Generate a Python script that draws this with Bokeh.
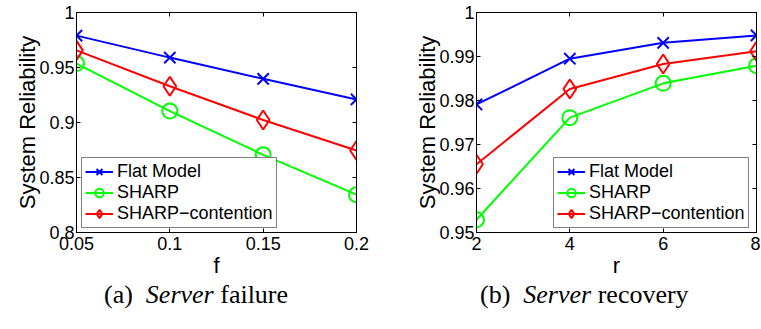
from bokeh.plotting import figure
from bokeh.models import (Range1d, FixedTicker, CustomJSTickFormatter, LinearAxis,
                          Legend, LegendItem, Div)
from bokeh.layouts import row, column
from bokeh.embed import file_html
from bokeh.resources import INLINE

# ---- data ----
f_vals = [0.05, 0.10, 0.15, 0.20]
f_flat = [0.979, 0.959, 0.9397, 0.921]
f_sharp = [0.9536, 0.9104, 0.8706, 0.8344]
f_cont = [0.9656, 0.933, 0.9023, 0.8745]

r_vals = [2, 4, 6, 8]
r_flat = [0.9791, 0.9895, 0.9931, 0.9948]
r_sharp = [0.9529, 0.9761, 0.9839, 0.9879]
r_cont = [0.9655, 0.9826, 0.9883, 0.9912]

f_ticks = [0.05, 0.1, 0.15, 0.2]
f_yticks = [0.8, 0.85, 0.9, 0.95, 1.0]
r_ticks = [2, 4, 6, 8]
r_yticks = [0.95, 0.96, 0.97, 0.98, 0.99, 1.0]

series_names = ["Flat Model", "SHARP", "SHARP\u2212contention"]
colors = ["#0000FF", "#00FF00", "#FF0000"]
markers = ["x", "circle", "diamond"]
marker_sizes = [16, 15, 19]

FONT = "Liberation Sans"
fmt = CustomJSTickFormatter(code="return String(Number(tick.toFixed(4)));")
blank_fmt = CustomJSTickFormatter(code="return '';")


def make_panel(xs, ys_list, xr, yr, xt, yt, xlabel, width, bl, br, legend_offset):
    p = figure(width=width, height=280, output_backend="svg", toolbar_location=None,
               x_range=Range1d(*xr), y_range=Range1d(*yr),
               min_border_left=bl, min_border_right=br, min_border_top=12,
               min_border_bottom=47)
    p.grid.visible = False
    p.outline_line_color = "black"
    p.outline_line_width = 1
    p.background_fill_color = "white"
    p.border_fill_color = "white"

    for ax, ticks in ((p.xaxis[0], xt), (p.yaxis[0], yt)):
        ax.ticker = FixedTicker(ticks=ticks)
        ax.formatter = fmt
        ax.major_tick_in = 4
        ax.major_tick_out = 0
        ax.minor_tick_line_color = None
        ax.major_label_text_font = FONT
        ax.major_label_text_font_size = "18px"
        ax.major_label_text_color = "black"
        ax.axis_label_text_font = FONT
        ax.axis_label_text_font_size = "22px"
        ax.axis_label_text_font_style = "normal"
        ax.axis_label_text_color = "black"
        ax.axis_line_color = "black"
    p.xaxis[0].axis_label = xlabel
    p.yaxis[0].axis_label = "System Reliability"
    p.xaxis[0].major_label_standoff = 4
    p.xaxis[0].axis_label_standoff = 0
    p.yaxis[0].major_label_standoff = 2
    p.yaxis[0].axis_label_standoff = -4

    for loc, ticks in (("above", xt), ("right", yt)):
        ax = LinearAxis(ticker=FixedTicker(ticks=ticks), formatter=blank_fmt,
                        major_tick_in=4, major_tick_out=0,
                        minor_tick_line_color=None,
                        major_label_text_font_size="1px", major_label_standoff=0,
                        axis_line_color="black")
        p.add_layout(ax, loc)

    items = []
    for name, ys, c, m, s in zip(series_names, ys_list, colors, markers, marker_sizes):
        ln = p.line(xs, ys, line_color=c, line_width=2)
        sc = p.scatter(xs, ys, marker=m, size=s, line_color=c, line_width=2,
                       fill_color=None)
        items.append(LegendItem(label=name, renderers=[ln, sc]))

    leg = Legend(items=items, location=legend_offset)
    leg.label_text_font = FONT
    leg.label_text_font_size = "18px"
    leg.label_text_color = "black"
    leg.glyph_width = 28
    leg.glyph_height = 21
    leg.label_height = 21
    leg.label_standoff = 4
    leg.spacing = 0
    leg.padding = 3
    leg.margin = 0
    leg.border_line_color = "black"
    leg.border_line_width = 1
    leg.background_fill_color = "white"
    leg.background_fill_alpha = 1
    p.add_layout(leg, "center")
    return p


p1 = make_panel(f_vals, [f_flat, f_sharp, f_cont], (0.05, 0.2), (0.8, 1.0),
                f_ticks, f_yticks, "f", 404, 76, 48, (5, 4))
p2 = make_panel(r_vals, [r_flat, r_sharp, r_cont], (2, 8), (0.95, 1.0),
                r_ticks, r_yticks, "r", 356, 72, 4, (77, 4))

cap_style = "font-family:'Liberation Serif'; font-size:26px; color:black; white-space:nowrap; padding-top:0px; line-height:30px;"
d1 = Div(text=f'<div style="{cap_style} padding-left:104px;">(a)&nbsp;&nbsp;<i>Server</i> failure</div>',
         width=404, height=40, margin=0)
d2 = Div(text=f'<div style="{cap_style} padding-left:76px;">(b)&nbsp;&nbsp;<i>Server</i> recovery</div>',
         width=356, height=40, margin=0)

layout = row(column(p1, d1), column(p2, d2))

open("out.html", "w").write(file_html(layout, INLINE))
